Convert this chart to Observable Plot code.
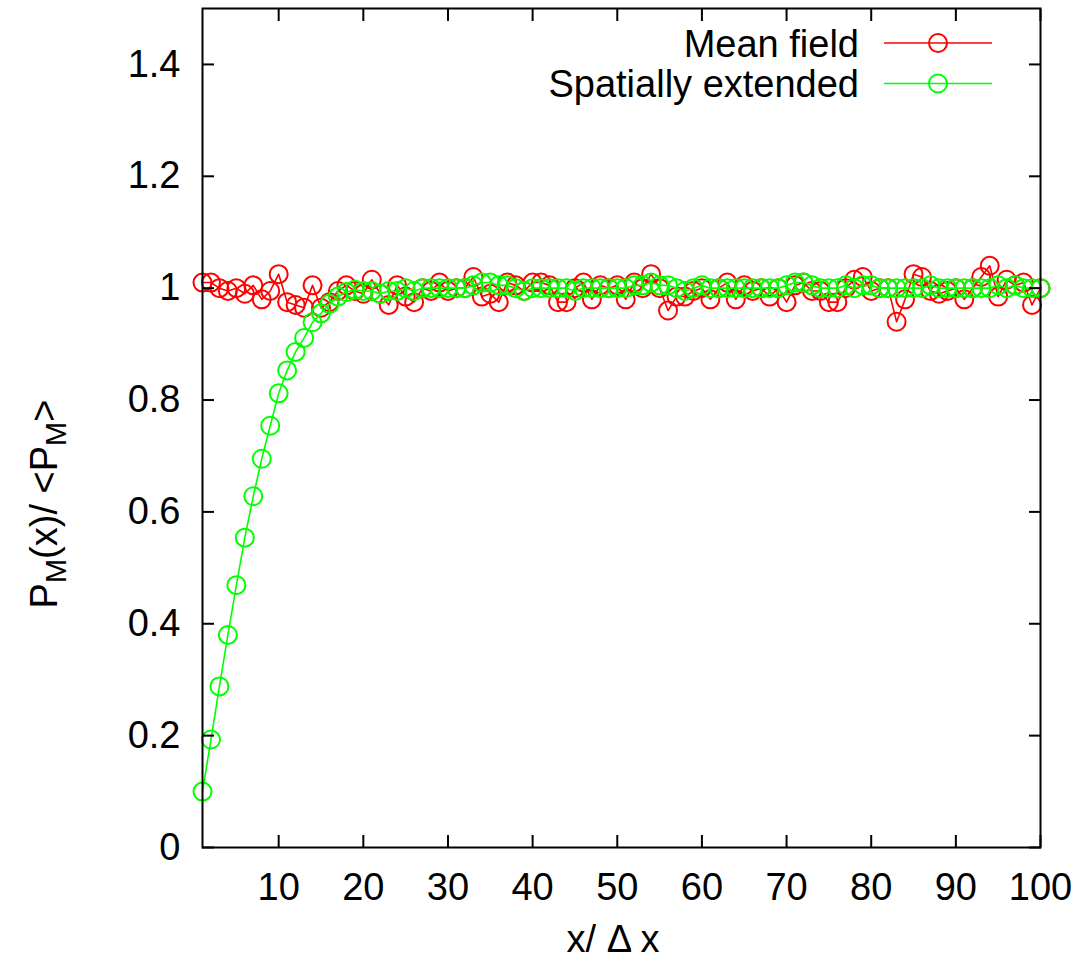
<!DOCTYPE html>
<html><head><meta charset="utf-8">
<script src="https://cdn.jsdelivr.net/npm/d3@7"></script>
<script src="https://cdn.jsdelivr.net/npm/@observablehq/plot@0.6"></script>
<style>body{margin:0;background:#fff;} #chart{width:1084px;height:966px;}</style>
</head><body><div id="chart"></div>
<script>
const xValues = [1,2,3,4,5,6,7,8,9,10,11,12,13,14,15,16,17,18,19,20,21,22,23,24,25,26,27,28,29,30,31,32,33,34,35,36,37,38,39,40,41,42,43,44,45,46,47,48,49,50,51,52,53,54,55,56,57,58,59,60,61,62,63,64,65,66,67,68,69,70,71,72,73,74,75,76,77,78,79,80,81,82,83,84,85,86,87,88,89,90,91,92,93,94,95,96,97,98,99,100];
const meanField = [1.01,1.01,1.0,0.995,1.0,0.99,1.005,0.98,0.995,1.025,0.975,0.97,0.965,1.005,0.965,0.975,0.995,1.005,0.995,0.99,1.015,0.99,0.97,1.005,0.985,0.975,1.0,0.995,1.01,0.995,1.0,1.0,1.02,0.985,0.99,0.975,1.01,1.005,0.995,1.01,1.01,1.005,0.975,0.975,1.0,1.01,0.98,1.005,1.0,1.005,0.98,1.01,1.0,1.025,1.0,0.96,0.985,0.985,0.995,1.0,0.98,1.0,1.01,0.98,1.005,0.995,1.0,0.985,1.0,0.975,1.005,1.01,0.995,0.995,0.975,0.975,1.0,1.015,1.02,0.995,1.0,1.0,0.94,0.98,1.025,1.02,0.995,0.99,0.995,1.0,0.98,1.0,1.02,1.04,0.985,1.015,1.005,1.01,0.97,1.0];
const spatial = [0.1,0.193,0.288,0.38,0.469,0.554,0.628,0.695,0.754,0.812,0.853,0.886,0.911,0.939,0.955,0.972,0.985,0.993,0.997,0.995,0.995,0.99,0.995,0.995,1.0,0.995,1.0,1.0,1.0,1.0,1.0,1.0,1.005,1.01,1.01,1.005,1.005,1.0,0.995,1.0,1.0,1.0,1.0,1.0,0.995,1.0,1.0,1.0,1.0,1.0,1.0,1.005,1.005,1.01,1.005,1.005,1.0,0.995,1.0,1.005,1.0,1.0,1.0,1.0,1.0,1.0,1.0,1.0,1.0,1.005,1.01,1.01,1.005,1.0,1.0,1.0,1.005,1.0,1.005,1.005,1.0,1.0,1.0,1.0,1.0,1.0,1.005,1.0,1.0,1.0,1.0,1.0,1.0,1.0,1.005,1.0,1.005,1.0,1.0,1.0];
const seriesNames = ["Mean field", "Spatially extended"];
const seriesColors = ["#ff0000", "#00ff00"];
const xTicks = [10,20,30,40,50,60,70,80,90,100];
const yTicks = [0,0.2,0.4,0.6,0.8,1,1.2,1.4];
const yTickLabels = ["0","0.2","0.4","0.6","0.8","1","1.2","1.4"];
const xLabel = "x/ \u0394 x";

const series = [meanField, spatial].map((vals, k) =>
  xValues.map((x, i) => ({x, y: vals[i], s: seriesNames[k]})));

const FONT = "'Liberation Sans', Arial, Helvetica, sans-serif";
const marks = [];
series.forEach((rows, k) => {
  marks.push(Plot.line(rows, {x: "x", y: "y", stroke: seriesColors[k], strokeWidth: 1.6}));
  marks.push(Plot.dot(rows, {x: "x", y: "y", r: 9, stroke: seriesColors[k], strokeWidth: 2, fill: "none"}));
});
marks.push(
  Plot.axisX(xTicks, {anchor: "bottom", tickSize: 0, tickPadding: 26, fontSize: 38, fill: "black"}),
  Plot.axisX(xTicks, {anchor: "bottom", tickSize: -12, fill: "none", strokeWidth: 2}),
  Plot.axisX(xTicks, {anchor: "top", tickSize: -12, fill: "none", strokeWidth: 2}),
  Plot.axisY(yTicks, {anchor: "left", tickSize: 0, tickPadding: 22, fontSize: 38, fill: "black",
    tickFormat: d => yTickLabels[yTicks.indexOf(d)]}),
  Plot.axisY(yTicks, {anchor: "left", tickSize: -12, fill: "none", strokeWidth: 2}),
  Plot.axisY(yTicks, {anchor: "right", tickSize: -12, fill: "none", strokeWidth: 2}),
  Plot.frame({stroke: "black", strokeWidth: 2})
);

const svg = Plot.plot({
  width: 1084, height: 966,
  marginLeft: 202, marginRight: 44, marginTop: 8, marginBottom: 119,
  x: {domain: [1, 100], label: null},
  y: {domain: [0, 1.5], label: null},
  style: {fontFamily: FONT, fontSize: "38px", background: "white", color: "black"},
  marks
});

const g = d3.select(svg).append("g").attr("font-family", FONT).attr("font-size", 38).attr("fill", "black");
// legend
const legendRows = [{lineY: 43, textY: 56.5}, {lineY: 83.5, textY: 96.5}];
seriesNames.forEach((name, k) => {
  const r = legendRows[k];
  g.append("text").attr("x", 859).attr("y", r.textY).attr("text-anchor", "end").text(name);
  g.append("line").attr("x1", 884).attr("x2", 992).attr("y1", r.lineY).attr("y2", r.lineY)
    .attr("stroke", seriesColors[k]).attr("stroke-width", 1.6);
  g.append("circle").attr("cx", 938).attr("cy", r.lineY).attr("r", 9)
    .attr("fill", "none").attr("stroke", seriesColors[k]).attr("stroke-width", 2);
});
// x label
g.append("text").attr("x", 613).attr("y", 952).attr("text-anchor", "middle").text(xLabel);
// y label with subscripts
const yl = g.append("text").attr("transform", "translate(57,504) rotate(-90)").attr("text-anchor", "middle");
yl.append("tspan").text("P");
yl.append("tspan").attr("font-size", 29).attr("dy", 9).text("M");
yl.append("tspan").attr("dy", -9).text("(x)/ <P");
yl.append("tspan").attr("font-size", 29).attr("dy", 9).text("M");
yl.append("tspan").attr("dy", -9).text(">");

document.getElementById("chart").appendChild(svg);
</script>
</body></html>
